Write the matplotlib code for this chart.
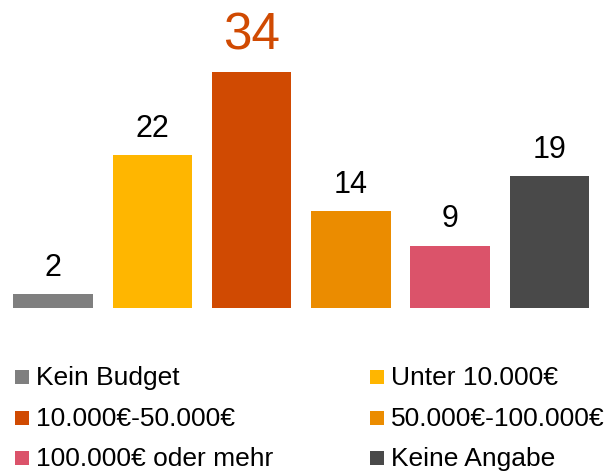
import matplotlib
matplotlib.use("Agg")
import matplotlib.pyplot as plt
from matplotlib.patches import Rectangle

categories = ["Kein Budget", "Unter 10.000€", "10.000€-50.000€",
              "50.000€-100.000€", "100.000€ oder mehr", "Keine Angabe"]
values = [2, 22, 34, 14, 9, 19]
colors = ["#7f7f7f", "#ffb600", "#d04a02", "#eb8c00", "#db536a", "#494949"]

plt.rcParams['font.family'] = ['Liberation Sans', 'DejaVu Sans']

W, H = 606, 472
fig = plt.figure(figsize=(W / 100, H / 100), dpi=100)

ax_left, ax_right = 3.35, 599.0
ax_base = 308.0
ppu = 6.94
ax = fig.add_axes([ax_left / W, (H - ax_base) / H, (ax_right - ax_left) / W, ax_base / H])
x = list(range(len(values)))
ax.bar(x, values, width=0.8, color=colors)
ax.set_xlim(-0.5, len(values) - 0.5)
ax.set_ylim(0, ax_base / ppu)
ax.axis('off')

max_i = values.index(max(values))
for i, v in enumerate(values):
    if i == max_i:
        ax.annotate(str(v), (i, v), xytext=(0, 16), textcoords='offset points',
                    ha='center', va='baseline', fontsize=37, color=colors[i])
    else:
        ax.annotate(str(v), (i, v), xytext=(0, 13), textcoords='offset points',
                    ha='center', va='baseline', fontsize=22, color='black')

# legend (2 columns, 3 rows)
col_x = [15, 370]
row_base = [385, 426, 466]
sq = 14
for k, (lab, c) in enumerate(zip(categories, colors)):
    r, cc = divmod(k, 2)
    x0 = col_x[cc]
    yb = row_base[r]
    fig.add_artist(Rectangle((x0 / W, (H - yb + 1) / H), sq / W, sq / H,
                             transform=fig.transFigure, color=c, lw=0))
    fig.text((x0 + sq + 7) / W, (H - yb) / H, lab, ha='left', va='baseline',
             fontsize=19, color='black')

fig.savefig("out.png", dpi=100)
